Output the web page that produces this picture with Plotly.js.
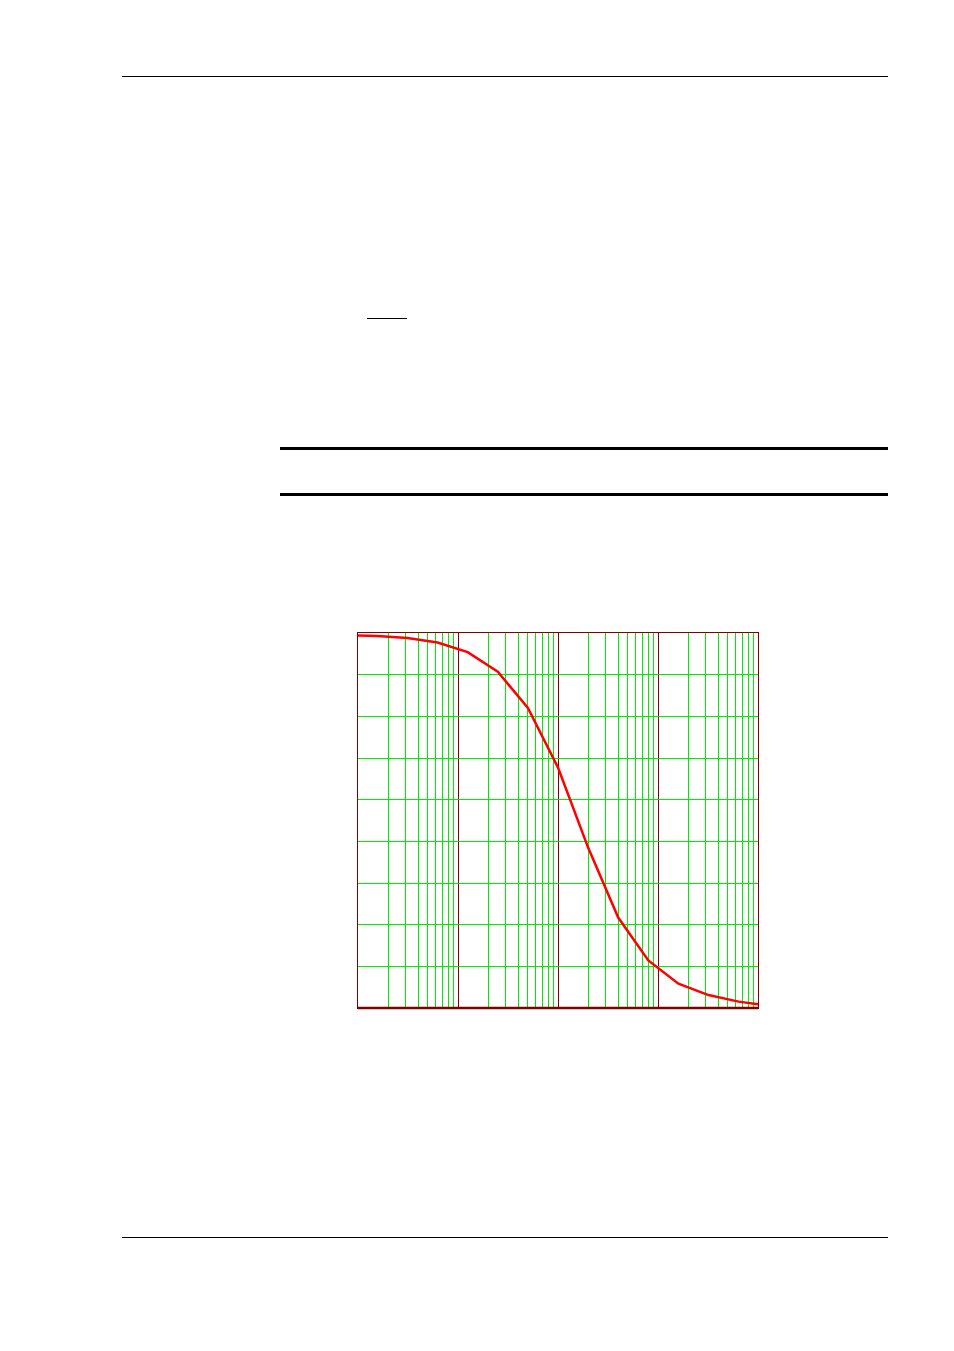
<!DOCTYPE html>
<html>
<head>
<meta charset="utf-8">
<script src="https://cdn.plot.ly/plotly-3.0.1.min.js"></script>
<style>
  html, body { margin: 0; padding: 0; background: #fff; }
  #chart { width: 954px; height: 1351px; }
</style>
</head>
<body>
<div id="chart"></div>
<script>
// curve values (log x, linear y 0..9)
const xValues = [1, 1.5625, 3.125, 6.25, 12.5, 25, 50, 100, 200, 400, 800, 1600, 3200, 6400, 10000];
const yValues = [8.94, 8.93, 8.88, 8.77, 8.54, 8.07, 7.2, 5.77, 3.85, 2.17, 1.14, 0.585, 0.31, 0.153, 0.089];

// plot box in page pixels
const box = { l: 358, r: 758, t: 633, b: 1008 };
const W = 954, H = 1351;

const px = (x) => (x - box.l) / (box.r - box.l);
const py = (y) => (box.b - y) / (box.b - box.t);

// page rules around the figure (header, table rules, footer)
const rule = (x0, x1, y, w) => ({
  type: "line", xref: "paper", yref: "paper",
  x0: px(x0), x1: px(x1), y0: py(y), y1: py(y),
  line: { color: "#000", width: w },
});

const shapes = [
  rule(122, 888, 76.5, 1),
  rule(367, 407, 318.5, 1),
  rule(280, 888, 448.5, 3),
  rule(280, 888, 494.5, 3),
  rule(122, 888, 1237.5, 1),
  // heavier bottom edge of the plot frame
  { type: "line", xref: "paper", yref: "paper", x0: 0, x1: 1, y0: 0, y1: 0,
    line: { color: "#800000", width: 2.5 } },
];

const trace = {
  x: xValues,
  y: yValues,
  type: "scatter",
  mode: "lines",
  line: { color: "#ff0000", width: 2.5 },
  hoverinfo: "skip",
};

const green = "rgb(0,235,0)";
const darkRed = "#800000";

const layout = {
  width: W,
  height: H,
  margin: { l: box.l, r: W - box.r, t: box.t, b: H - box.b, pad: 0 },
  paper_bgcolor: "#fff",
  plot_bgcolor: "#fff",
  showlegend: false,
  xaxis: {
    type: "log",
    range: [0, 4],
    dtick: 1,
    showgrid: true,
    gridcolor: darkRed,
    gridwidth: 1,
    minor: { dtick: "D1", showgrid: true, gridcolor: green, gridwidth: 1, ticks: "" },
    showticklabels: false,
    ticks: "",
    zeroline: false,
    showline: true,
    mirror: true,
    linecolor: darkRed,
    linewidth: 1,
  },
  yaxis: {
    range: [0, 9],
    dtick: 1,
    showgrid: true,
    gridcolor: green,
    gridwidth: 1,
    showticklabels: false,
    ticks: "",
    zeroline: false,
    showline: true,
    mirror: true,
    linecolor: darkRed,
    linewidth: 1,
  },
  shapes: shapes,
};

Plotly.newPlot("chart", [trace], layout, { staticPlot: true, displayModeBar: false });
</script>
</body>
</html>
